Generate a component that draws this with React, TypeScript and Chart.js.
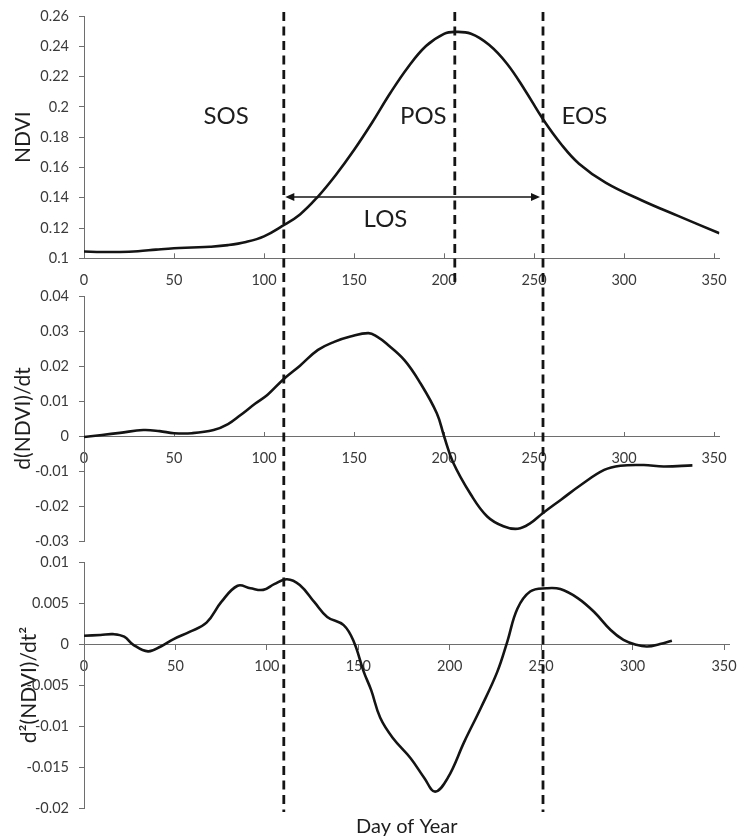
import React, { useEffect, useRef } from 'react';
import { Chart, registerables } from 'chart.js';

Chart.register(...registerables);

// ---------------- data ----------------
const ndviDays = [0, 10, 20, 30, 40, 50, 60, 70, 80, 90, 100, 110, 120, 130, 140, 150, 160, 170, 180, 190, 200, 206, 215, 225, 235, 245, 255, 265, 275, 290, 310, 330, 353];
const ndviValues = [0.1045, 0.1042, 0.1042, 0.1047, 0.1057, 0.1066, 0.1071, 0.1076, 0.1087, 0.1108, 0.1145, 0.1212, 0.129, 0.1408, 0.1552, 0.1715, 0.1895, 0.2088, 0.2262, 0.2402, 0.2482, 0.2495, 0.2483, 0.241, 0.2285, 0.211, 0.1918, 0.1755, 0.1625, 0.1498, 0.1382, 0.128, 0.1165];

const d1Days = [0, 10, 20, 33, 42, 50, 60, 72, 80, 87, 95, 102, 111, 120, 130, 139, 148, 158, 163, 168, 178, 187, 196, 200, 205, 215, 224, 233, 241, 248, 255, 265, 276, 289, 298, 311, 322, 338];
const d1Values = [-0.0003, 0.0003, 0.0009, 0.0017, 0.0014, 0.0008, 0.0008, 0.0017, 0.0034, 0.006, 0.0092, 0.0118, 0.0163, 0.0201, 0.0246, 0.0269, 0.0284, 0.0294, 0.0283, 0.0264, 0.0217, 0.015, 0.0065, 0.0, -0.0075, -0.0168, -0.023, -0.0258, -0.0265, -0.0249, -0.022, -0.0182, -0.014, -0.0097, -0.0085, -0.0083, -0.0087, -0.0084];

const d2Days = [0, 9, 16, 22, 27, 35, 42, 49, 58, 67, 75, 84, 91, 98, 104, 111, 118, 126, 133, 142, 147.5, 153, 157, 162, 169, 178.5, 186, 192, 199, 208, 217, 226, 231.5, 237, 244, 253, 260.5, 270, 279, 288, 295, 302, 308, 315, 321.5];
const d2Values = [0.001, 0.0011, 0.0012, 0.0009, -0.0001, -0.0009, -0.0003, 0.0006, 0.0015, 0.0026, 0.0051, 0.0071, 0.0068, 0.0066, 0.0073, 0.0079, 0.0072, 0.0051, 0.0033, 0.0023, 0.0003, -0.0034, -0.0056, -0.009, -0.0115, -0.0139, -0.0163, -0.018, -0.0163, -0.0119, -0.0078, -0.0034, 0.0003, 0.0043, 0.0064, 0.0068, 0.0067, 0.0056, 0.0039, 0.0017, 0.0005, -0.0001, -0.0003, 0.0, 0.0004];

const dayTicks = [0, 50, 100, 150, 200, 250, 300, 350];
const ndviTicks = [0.1, 0.12, 0.14, 0.16, 0.18, 0.2, 0.22, 0.24, 0.26];
const d1Ticks = [-0.03, -0.02, -0.01, 0, 0.01, 0.02, 0.03, 0.04];
const d2Ticks = [-0.02, -0.015, -0.01, -0.005, 0, 0.005, 0.01];

const phaseNames = ['SOS', 'POS', 'EOS'];
const phaseDays = [111, 206, 255];
const phaseLabelDays = [79, 188.5, 278];
const losName = 'LOS';

const yTitles = ['NDVI', 'd(NDVI)/dt', 'd\u00B2(NDVI)/dt\u00B2'];
const xTitle = 'Day of Year';

// ---------------- styles / layout ----------------
const DAY_MAX = 353;
const FONT = 'Lato, "Open Sans", "DejaVu Sans", sans-serif';
const AXIS_COLOR = '#6e6e6e';
const TICK_COLOR = '#3a3a3a';
const TEXT_COLOR = '#1e1e1e';
const CURVE_COLOR = '#141414';

const PHASE_LABEL_VALUE = 0.194;
const LOS_LABEL_DAY = 167.5;
const LOS_LABEL_VALUE = 0.1255;
const LOS_ARROW_VALUE = 0.1405;
const GUIDE_TOP = 12;
const GUIDE_BOTTOMS = [812, 283, 812];

Chart.defaults.font.family = FONT;

const fmt = (v: number) => String(parseFloat(Number(v).toFixed(4)));

function fixedFit(size: number) {
  return (scale: any) => {
    if (scale.isHorizontal()) scale.height = size;
    else scale.width = size;
    scale.paddingLeft = 0;
    scale.paddingRight = 0;
    scale.paddingTop = 0;
    scale.paddingBottom = 0;
  };
}

const phenologyPlugin = {
  id: 'phenology',
  afterDraw(chart: any) {
    const { ctx } = chart;
    const x = chart.scales.x;
    const y = chart.scales.y;
    ctx.save();
    ctx.strokeStyle = CURVE_COLOR;
    ctx.lineWidth = 2.8;
    ctx.setLineDash([9, 5.5]);
    phaseDays.forEach((d, i) => {
      const px = x.getPixelForValue(d);
      ctx.beginPath();
      ctx.moveTo(px, GUIDE_TOP);
      ctx.lineTo(px, GUIDE_BOTTOMS[i]);
      ctx.stroke();
    });
    ctx.setLineDash([]);

    // LOS arrow
    const ay = y.getPixelForValue(LOS_ARROW_VALUE);
    const a1 = x.getPixelForValue(phaseDays[0]) + 1.5;
    const a2 = x.getPixelForValue(phaseDays[2]) - 3;
    ctx.lineWidth = 1.5;
    ctx.beginPath();
    ctx.moveTo(a1 + 6, ay);
    ctx.lineTo(a2 - 6, ay);
    ctx.stroke();
    ctx.fillStyle = CURVE_COLOR;
    ctx.beginPath();
    ctx.moveTo(a1, ay);
    ctx.lineTo(a1 + 9, ay - 4);
    ctx.lineTo(a1 + 9, ay + 4);
    ctx.closePath();
    ctx.fill();
    ctx.beginPath();
    ctx.moveTo(a2, ay);
    ctx.lineTo(a2 - 9, ay - 4);
    ctx.lineTo(a2 - 9, ay + 4);
    ctx.closePath();
    ctx.fill();

    // labels
    ctx.fillStyle = TEXT_COLOR;
    ctx.font = `24px ${FONT}`;
    ctx.textAlign = 'center';
    ctx.textBaseline = 'middle';
    phaseNames.forEach((n, i) => {
      ctx.fillText(n, x.getPixelForValue(phaseLabelDays[i]), y.getPixelForValue(PHASE_LABEL_VALUE));
    });
    ctx.fillText(losName, x.getPixelForValue(LOS_LABEL_DAY), y.getPixelForValue(LOS_LABEL_VALUE));
    ctx.restore();
  },
};

interface PanelOpts {
  days: number[];
  values: number[];
  yTicks: number[];
  yTitle: string;
  yTitlePad: number;
  padding: { left: number; top: number; right: number; bottom: number };
  xPosition: any;
  xTickLen: number;
  xTickPad: number;
  showXTitle: boolean;
  plugins: any[];
}

function panelConfig(o: PanelOpts): any {
  return {
    type: 'line',
    data: {
      datasets: [
        {
          data: o.days.map((d, i) => ({ x: d, y: o.values[i] })),
          borderColor: CURVE_COLOR,
          borderWidth: 2.6,
          pointRadius: 0,
          tension: 0.4,
          cubicInterpolationMode: 'default',
          fill: false,
        },
      ],
    },
    options: {
      responsive: false,
      animation: false,
      devicePixelRatio: 1,
      events: [],
      layout: { padding: o.padding },
      plugins: {
        legend: { display: false },
        tooltip: { enabled: false },
        title: {
          display: o.showXTitle,
          text: xTitle,
          position: 'bottom',
          fullSize: false,
          color: TEXT_COLOR,
          font: { size: 20, weight: 'normal', lineHeight: 1, family: FONT },
          padding: { top: 9, bottom: 0 },
        },
      },
      scales: {
        x: {
          type: 'linear',
          min: 0,
          max: DAY_MAX,
          bounds: 'data',
          position: o.xPosition,
          afterBuildTicks: (s: any) => {
            s.ticks = dayTicks.map((v) => ({ value: v }));
          },
          afterFit: fixedFit(40),
          grid: {
            drawOnChartArea: false,
            drawTicks: true,
            tickLength: o.xTickLen,
            color: AXIS_COLOR,
            lineWidth: 1,
          },
          border: { display: true, color: AXIS_COLOR, width: 1 },
          ticks: {
            padding: o.xTickPad,
            color: TICK_COLOR,
            font: { size: 14.5 },
            maxRotation: 0,
            autoSkip: false,
            callback: (v: number) => fmt(v),
          },
        },
        y: {
          type: 'linear',
          min: o.yTicks[0],
          max: o.yTicks[o.yTicks.length - 1],
          afterBuildTicks: (s: any) => {
            s.ticks = o.yTicks.map((v) => ({ value: v }));
          },
          afterFit: fixedFit(84),
          grid: {
            drawOnChartArea: false,
            drawTicks: true,
            tickLength: 5,
            color: AXIS_COLOR,
            lineWidth: 1,
          },
          border: { display: true, color: AXIS_COLOR, width: 1 },
          ticks: {
            padding: 10,
            color: TICK_COLOR,
            font: { size: 14.5 },
            autoSkip: false,
            callback: (v: number) => fmt(v),
          },
          title: {
            display: true,
            text: o.yTitle,
            color: TEXT_COLOR,
            font: { size: 21 },
            padding: { top: o.yTitlePad, bottom: 0 },
          },
        },
      },
    },
    plugins: o.plugins,
  };
}

export default function App() {
  const r1 = useRef<HTMLCanvasElement>(null);
  const r2 = useRef<HTMLCanvasElement>(null);
  const r3 = useRef<HTMLCanvasElement>(null);

  useEffect(() => {
    const c3 = new Chart(
      r3.current as HTMLCanvasElement,
      panelConfig({
        days: d2Days,
        values: d2Values,
        yTicks: d2Ticks,
        yTitle: yTitles[2],
        yTitlePad: 17,
        padding: { left: 0, top: 562, right: 10.5, bottom: 0 },
        xPosition: { y: 0 },
        xTickLen: 5,
        xTickPad: 8.3,
        showXTitle: true,
        plugins: [],
      })
    );
    const c2 = new Chart(
      r2.current as HTMLCanvasElement,
      panelConfig({
        days: d1Days,
        values: d1Values,
        yTicks: d1Ticks,
        yTitle: yTitles[1],
        yTitlePad: 11,
        padding: { left: 0, top: 296, right: 20.6, bottom: 296 },
        xPosition: { y: 0 },
        xTickLen: -5,
        xTickPad: 18.3,
        showXTitle: false,
        plugins: [],
      })
    );
    const c1 = new Chart(
      r1.current as HTMLCanvasElement,
      panelConfig({
        days: ndviDays,
        values: ndviValues,
        yTicks: ndviTicks,
        yTitle: yTitles[0],
        yTitlePad: 11,
        padding: { left: 0, top: 16, right: 20.6, bottom: 538.7 },
        xPosition: 'bottom',
        xTickLen: -5,
        xTickPad: 18.3,
        showXTitle: false,
        plugins: [phenologyPlugin],
      })
    );
    return () => {
      c1.destroy();
      c2.destroy();
      c3.destroy();
    };
  }, []);

  const cs: React.CSSProperties = { position: 'absolute', left: 0, top: 0, width: 740, height: 837 };
  return (
    <div style={{ position: 'fixed', left: 0, top: 0, width: 740, height: 837, background: '#ffffff' }}>
      <canvas ref={r3} width={740} height={837} style={cs} />
      <canvas ref={r2} width={740} height={837} style={cs} />
      <canvas ref={r1} width={740} height={837} style={cs} />
    </div>
  );
}
